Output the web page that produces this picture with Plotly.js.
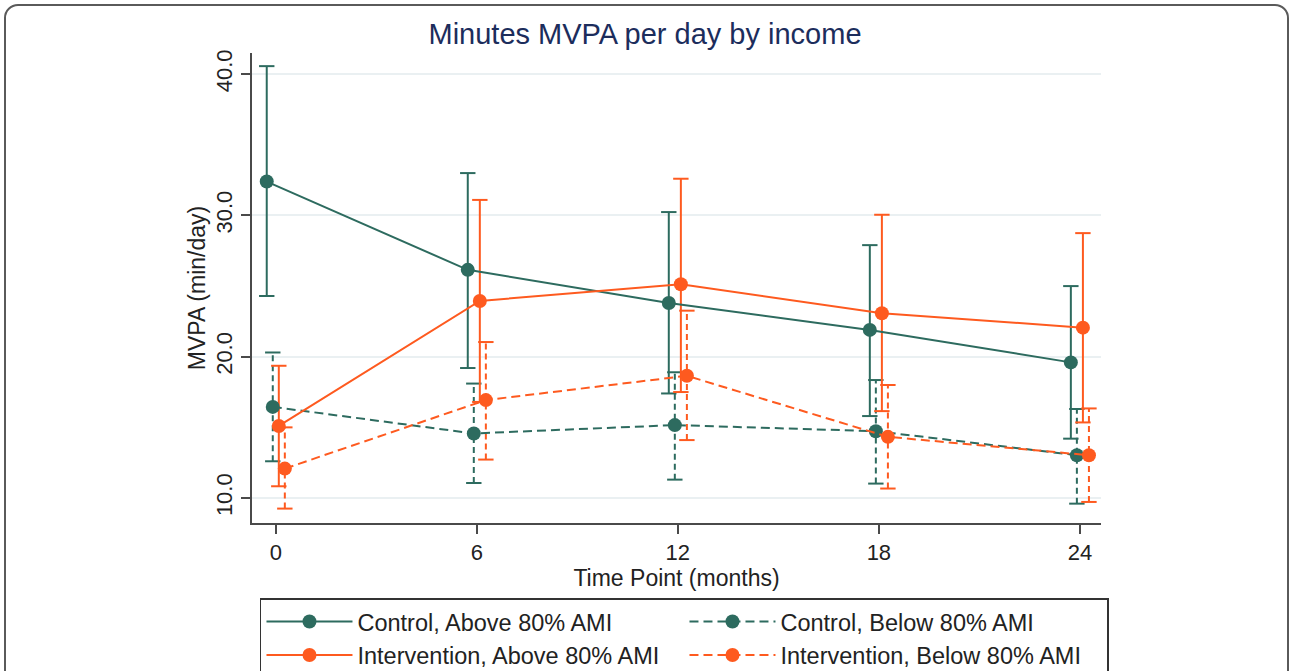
<!DOCTYPE html>
<html>
<head>
<meta charset="utf-8">
<script src="https://cdn.plot.ly/plotly-3.0.1.min.js"></script>
<style>
  html, body { margin: 0; padding: 0; background: #ffffff; overflow: hidden; }
  #chart { position: absolute; left: 0; top: 0; width: 1290px; height: 671px; }
  #frame { position: absolute; left: 4px; top: 4px; width: 1281px; height: 720px;
           border: 2px solid #5a5a5a; border-radius: 14px; pointer-events: none; }
</style>
</head>
<body>
<div id="chart"></div>
<div id="frame"></div>
<script>
// ---- data ----
const months = [0, 6, 12, 18, 24];
const xTickLabels = ["0", "6", "12", "18", "24"];
const yTickVals = [10, 20, 30, 40];
const yTickLabels = ["10.0", "20.0", "30.0", "40.0"];

const seriesNames = ["Control, Above 80% AMI", "Control, Below 80% AMI",
                     "Intervention, Above 80% AMI", "Intervention, Below 80% AMI"];

const ctrlAboveMean = [32.4, 26.15, 23.8, 21.9, 19.6];
const ctrlAboveLo   = [24.3, 19.2, 17.4, 15.8, 14.2];
const ctrlAboveHi   = [40.57, 33.0, 30.24, 27.9, 25.0];

const ctrlBelowMean = [16.45, 14.57, 15.16, 14.73, 13.03];
const ctrlBelowLo   = [12.6, 11.06, 11.3, 11.02, 9.6];
const ctrlBelowHi   = [20.3, 18.1, 18.9, 18.35, 16.3];

const intAboveMean  = [15.1, 23.95, 25.13, 23.08, 22.06];
const intAboveLo    = [10.83, 16.8, 17.5, 16.15, 15.35];
const intAboveHi    = [19.36, 31.1, 32.6, 30.05, 28.75];

const intBelowMean  = [12.08, 16.93, 18.65, 14.33, 13.03];
const intBelowLo    = [9.25, 12.72, 14.1, 10.67, 9.72];
const intBelowHi    = [15.0, 21.04, 23.26, 18.0, 16.34];

// ---- styling ----
const TEAL = "#2d6b5f";
const ORANGE = "#fe5a1f";
const FONT = "Liberation Sans, Arial, sans-serif";

const series = [
  {name: seriesNames[0], mean: ctrlAboveMean, lo: ctrlAboveLo, hi: ctrlAboveHi, color: TEAL,   dash: "solid", off: -0.27},
  {name: seriesNames[1], mean: ctrlBelowMean, lo: ctrlBelowLo, hi: ctrlBelowHi, color: TEAL,   dash: "dash",  off: -0.09},
  {name: seriesNames[2], mean: intAboveMean,  lo: intAboveLo,  hi: intAboveHi,  color: ORANGE, dash: "solid", off: 0.09},
  {name: seriesNames[3], mean: intBelowMean,  lo: intBelowLo,  hi: intBelowHi,  color: ORANGE, dash: "dash",  off: 0.27}
];

const traces = [];
// error bars first (drawn underneath)
series.forEach(s => {
  const xs = months.map(m => m + s.off);
  const segX = [], segY = [];
  xs.forEach((x, i) => { segX.push(x, x, null); segY.push(s.lo[i], s.hi[i], null); });
  traces.push({
    x: segX, y: segY, type: "scatter", mode: "lines", showlegend: false, hoverinfo: "skip",
    line: {color: s.color, width: 2, dash: s.dash === "dash" ? "6px,4px" : "solid"}
  });
  traces.push({
    x: xs.concat(xs), y: s.lo.concat(s.hi), type: "scatter", mode: "markers",
    showlegend: false, hoverinfo: "skip",
    marker: {symbol: "line-ew", size: 11, color: s.color, line: {color: s.color, width: 2}}
  });
});
// main lines with markers
series.forEach(s => {
  traces.push({
    x: months.map(m => m + s.off), y: s.mean, name: s.name,
    type: "scatter", mode: "lines+markers",
    line: {color: s.color, width: 2, dash: s.dash === "dash" ? "9px,5px" : "solid"},
    marker: {color: s.color, size: 14, symbol: "circle"}
  });
});

const layout = {
  width: 1290, height: 671,
  paper_bgcolor: "#ffffff", plot_bgcolor: "#ffffff",
  font: {family: FONT, color: "#222222", size: 22},
  margin: {l: 252, r: 189, t: 53, b: 148, autoexpand: false},
  title: {text: "Minutes MVPA per day by income", x: 0.5, xref: "container", xanchor: "center",
          y: 1 - 34/671, yref: "container", yanchor: "middle",
          font: {family: FONT, size: 29, color: "#1c2d5c"}},
  xaxis: {
    range: [-0.71, 24.63], tickvals: months, ticktext: xTickLabels,
    showgrid: false, zeroline: false, showline: true, linecolor: "#4a4a4a", linewidth: 2,
    ticks: "outside", ticklen: 9, tickwidth: 2, tickcolor: "#4a4a4a",
    tickfont: {family: FONT, size: 22, color: "#222"},
    title: {text: "Time Point (months)", standoff: 2, font: {family: FONT, size: 23, color: "#222"}}
  },
  yaxis: {
    range: [8.23, 41.5], tickvals: yTickVals, ticktext: yTickLabels, tickangle: -90,
    showgrid: true, gridcolor: "#eaf0f2", gridwidth: 2, zeroline: false,
    showline: true, linecolor: "#4a4a4a", linewidth: 2,
    ticks: "outside", ticklen: 9, tickwidth: 2, tickcolor: "#4a4a4a",
    tickfont: {family: FONT, size: 22, color: "#222"},
    title: {text: "MVPA (min/day)", standoff: 0, font: {family: FONT, size: 23, color: "#222"}}
  },
  showlegend: true,
  legend: {
    orientation: "h", x: 0.0094, xanchor: "left", y: -0.16, yanchor: "top",
    bgcolor: "#ffffff", bordercolor: "#333333", borderwidth: 1.5,
    font: {family: FONT, size: 23.5, color: "#222"},
    entrywidth: 322, entrywidthmode: "pixels", itemwidth: 86, traceorder: "normal"
  }
};

Plotly.newPlot("chart", traces, layout, {displayModeBar: false, staticPlot: true});
</script>
</body>
</html>
